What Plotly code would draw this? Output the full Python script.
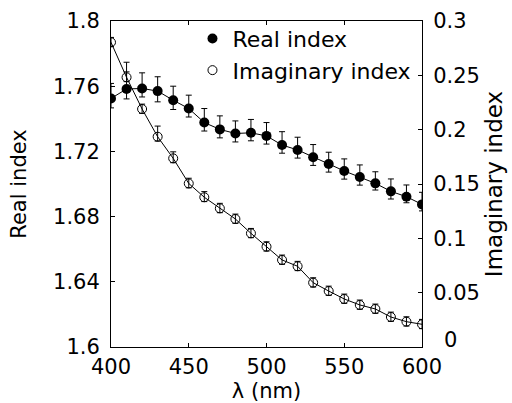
import plotly.graph_objects as go

wavelength = [400, 410, 420, 430, 440, 450, 460, 470, 480, 490, 500,
              510, 520, 530, 540, 550, 560, 570, 580, 590, 600]
real_index = [1.7525, 1.7583, 1.7586, 1.7570, 1.7514, 1.7463, 1.7377, 1.7335,
              1.7310, 1.7314, 1.7295, 1.7239, 1.7209, 1.7164, 1.7123, 1.7080,
              1.7043, 1.7004, 1.6955, 1.6922, 1.6875]
real_err_plus = [0.0092, 0.0164, 0.0096, 0.0088, 0.0086, 0.0082, 0.0086, 0.0083,
                 0.0077, 0.0082, 0.0082, 0.0082, 0.0078, 0.0078, 0.0072, 0.0074,
                 0.0074, 0.0071, 0.0076, 0.0072, 0.0074]
real_err_minus = [0.0058, 0.0061, 0.0052, 0.0066, 0.0057, 0.0052, 0.0052, 0.0052,
                  0.0052, 0.0049, 0.0050, 0.0050, 0.0050, 0.0050, 0.0050, 0.0050,
                  0.0050, 0.0041, 0.0047, 0.0037, 0.0040]
imag_index = [0.2804, 0.2482, 0.2190, 0.1935, 0.1736, 0.1505, 0.1378, 0.1276,
              0.1178, 0.1046, 0.0923, 0.0801, 0.0743, 0.0592, 0.0515, 0.0442,
              0.0387, 0.0350, 0.0276, 0.0233, 0.0209]
imag_err_plus = [0.0045, 0.0050, 0.0045, 0.0098, 0.0060, 0.0048, 0.0052, 0.0046,
                 0.0045, 0.0045, 0.0045, 0.0045, 0.0045, 0.0045, 0.0045, 0.0045,
                 0.0045, 0.0045, 0.0045, 0.0045, 0.0045]
imag_err_minus = [0.0040] * 21

x_ticks = [400, 450, 500, 550, 600]
real_ticks = [1.6, 1.64, 1.68, 1.72, 1.76, 1.8]
real_tick_text = ["1.6", "1.64", "1.68", "1.72", "1.76", "1.8"]
imag_ticks = [0, 0.05, 0.1, 0.15, 0.2, 0.25, 0.3]
imag_tick_text = ["0", "0.05", "0.1", "0.15", "0.2", "0.25", "0.3"]

FONT = "DejaVu Sans"

fig = go.Figure()
fig.add_trace(go.Scatter(x=wavelength, y=real_index, mode="lines",
                         line=dict(color="black", width=1), showlegend=False,
                         hoverinfo="skip", yaxis="y"))
fig.add_trace(go.Scatter(x=wavelength, y=imag_index, mode="lines",
                         line=dict(color="black", width=1), showlegend=False,
                         hoverinfo="skip", yaxis="y2"))
fig.add_trace(go.Scatter(x=wavelength, y=real_index, mode="markers", name="Real index",
                         marker=dict(symbol="circle", size=10, color="black"),
                         error_y=dict(type="data", symmetric=False, array=real_err_plus,
                                      arrayminus=real_err_minus, color="black",
                                      thickness=1, width=3),
                         yaxis="y"))
fig.add_trace(go.Scatter(x=wavelength, y=imag_index, mode="markers", name="Imaginary index",
                         marker=dict(symbol="circle-open", size=9, color="black",
                                     line=dict(width=1, color="black")),
                         error_y=dict(type="data", symmetric=False, array=imag_err_plus,
                                      arrayminus=imag_err_minus, color="black",
                                      thickness=1, width=3),
                         yaxis="y2"))

axis_common = dict(ticks="inside", ticklen=4, tickcolor="black", tickwidth=1,
                   showline=True, linecolor="black", linewidth=1,
                   showgrid=False, zeroline=False, automargin=False,
                   tickfont=dict(family=FONT, size=21, color="black"))

# the right-axis zero label sits offset (up and right) in the original, as a separate text
imag_axis_text = [""] + imag_tick_text[1:]

fig.update_layout(
    width=512, height=403, autosize=False,
    margin=dict(l=111, r=90, t=21, b=56, pad=0),
    paper_bgcolor="white", plot_bgcolor="white",
    font=dict(family=FONT, size=21, color="black"),
    xaxis=dict(range=[400, 600], tickvals=x_ticks, ticktext=[str(v) for v in x_ticks],
               mirror="ticks", ticklabelstandoff=1,
               title=dict(text="λ (nm)", font=dict(family=FONT, size=21), standoff=10),
               **axis_common),
    yaxis=dict(range=[1.6, 1.8], tickvals=real_ticks, ticktext=real_tick_text,
               ticklabelstandoff=6,
               title=dict(text="Real index", font=dict(family=FONT, size=21), standoff=20),
               **axis_common),
    yaxis2=dict(range=[0, 0.3], tickvals=imag_ticks, ticktext=imag_axis_text,
                overlaying="y", side="right", ticklabelstandoff=6,
                title=dict(text="Imaginary index", font=dict(family=FONT, size=23), standoff=6),
                **axis_common),
    legend=dict(x=0.262, y=1.01, xanchor="left", yanchor="top",
                bgcolor="rgba(0,0,0,0)", borderwidth=0,
                font=dict(family=FONT, size=22, color="black")),
    showlegend=True,
    annotations=[dict(text=imag_tick_text[0], xref="paper", x=1, yref="y2", y=imag_ticks[0],
                      xanchor="left", yanchor="middle", xshift=20, yshift=7,
                      showarrow=False, font=dict(family=FONT, size=21, color="black"))],
)

fig.write_html("out.html", config={"displayModeBar": False},
               post_script="document.body.style.margin='0';document.body.style.overflow='hidden';")
